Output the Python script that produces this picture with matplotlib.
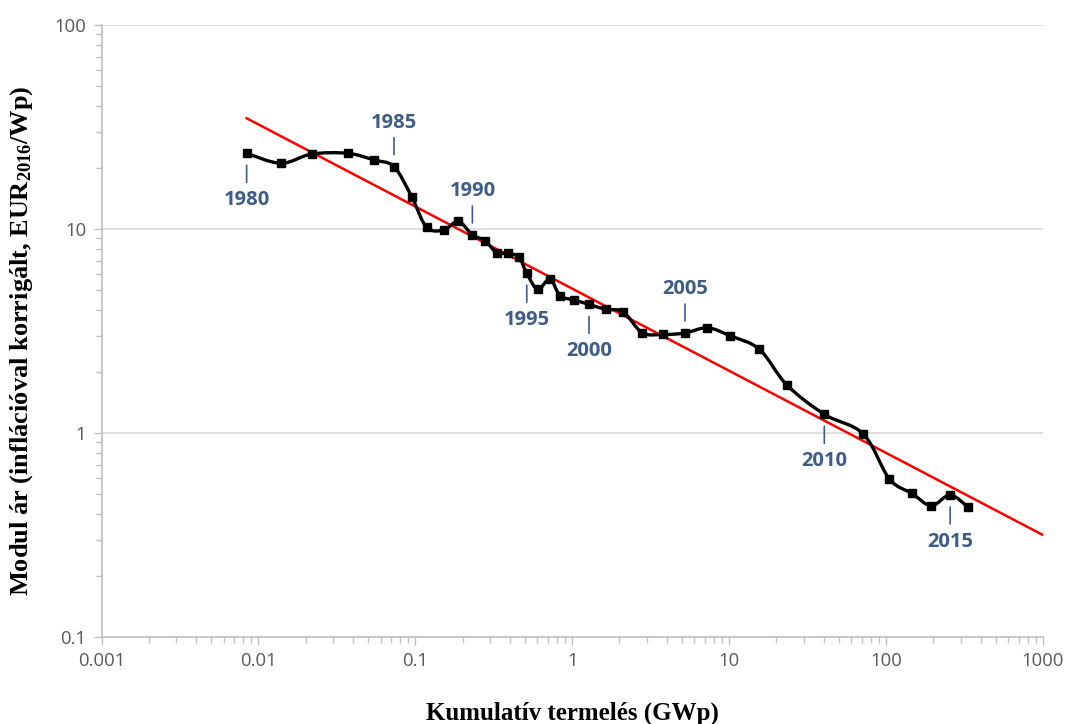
import numpy as np
import matplotlib
matplotlib.use("Agg")
import matplotlib.pyplot as plt
from matplotlib.path import Path
from matplotlib.patches import PathPatch
from matplotlib.ticker import LogLocator, FixedLocator, FixedFormatter, NullFormatter

# ---------------- data ----------------
years = list(range(1980, 2017))
cum_gwp = [0.00841, 0.01393, 0.02184, 0.03707, 0.05447, 0.0731, 0.0948, 0.118, 0.152, 0.188,
           0.231, 0.278, 0.330, 0.391, 0.458, 0.513, 0.602, 0.721, 0.836, 1.026,
           1.279, 1.634, 2.115, 2.794, 3.80, 5.23, 7.26, 10.1, 15.6, 23.3,
           40.4, 71.6, 105, 146, 194, 256, 334]
price = [23.5, 21.0, 23.3, 23.5, 21.8, 20.2, 14.4, 10.2, 9.89, 10.9,
         9.35, 8.77, 7.65, 7.60, 7.27, 6.07, 5.06, 5.69, 4.71, 4.49,
         4.27, 4.04, 3.92, 3.10, 3.04, 3.09, 3.28, 3.00, 2.57, 1.72,
         1.235, 0.989, 0.595, 0.506, 0.440, 0.497, 0.432]
fit_x = [0.00841, 1000]
fit_y = [34.9, 0.316]
label_years = [1980, 1985, 1990, 1995, 2000, 2005, 2010, 2015]
label_side = ['below', 'above', 'above', 'below', 'below', 'above', 'below', 'below']
x_ticks = [0.001, 0.01, 0.1, 1, 10, 100, 1000]
x_ticklabels = ['0.001', '0.01', '0.1', '1', '10', '100', '1000']
y_ticks = [0.1, 1, 10, 100]
y_ticklabels = ['0.1', '1', '10', '100']

plt.rcParams['mathtext.fontset'] = 'custom'
plt.rcParams['mathtext.rm'] = 'Liberation Serif:bold'
plt.rcParams['mathtext.it'] = 'Liberation Serif:bold'
plt.rcParams['mathtext.bf'] = 'Liberation Serif:bold'

fig = plt.figure(figsize=(10.68, 7.24), dpi=100)
ax = fig.add_axes([101.5 / 1068, 1 - 637 / 724, (1043 - 101.5) / 1068, (637 - 25) / 724])
ax.set_xscale('log')
ax.set_yscale('log')
ax.set_xlim(0.001, 1000)
ax.set_ylim(0.1, 100)

# grid
for v in [1, 10, 100]:
    ax.axhline(v, color='#D9D9D9', lw=1.2, zorder=0)

for s in ['top', 'right']:
    ax.spines[s].set_visible(False)
for s in ['left', 'bottom']:
    ax.spines[s].set_color('#BFBFBF')
    ax.spines[s].set_linewidth(1.2)

ax.xaxis.set_major_locator(FixedLocator(x_ticks))
ax.xaxis.set_major_formatter(FixedFormatter(x_ticklabels))
ax.yaxis.set_major_locator(FixedLocator(y_ticks))
ax.yaxis.set_major_formatter(FixedFormatter(y_ticklabels))
ax.xaxis.set_minor_locator(LogLocator(base=10, subs=np.arange(2, 10), numticks=20))
ax.yaxis.set_minor_locator(LogLocator(base=10, subs=np.arange(2, 10), numticks=20))
ax.xaxis.set_minor_formatter(NullFormatter())
ax.yaxis.set_minor_formatter(NullFormatter())
ax.tick_params(which='both', direction='out', color='#BFBFBF', width=1)
ax.tick_params(which='major', length=6, labelsize=13.3, labelcolor='#595959', pad=5)
ax.tick_params(which='minor', length=4)
for lab in ax.get_xticklabels() + ax.get_yticklabels():
    lab.set_family('Open Sans')

# fit line
ax.plot(fit_x, fit_y, color='#FF0000', lw=1.8, zorder=3)

# smoothed curve (Catmull-Rom Bezier in log space)
lx = np.log10(cum_gwp)
ly = np.log10(price)
P = np.column_stack([lx, ly])
n = len(P)
verts = [P[0]]
codes = [Path.MOVETO]
for i in range(n - 1):
    p0 = P[i - 1] if i > 0 else P[i]
    p1 = P[i]
    p2 = P[i + 1]
    p3 = P[i + 2] if i + 2 < n else P[i + 1]
    c1 = p1 + (p2 - p0) / 6.0
    c2 = p2 - (p3 - p1) / 6.0
    verts += [c1, c2, p2]
    codes += [Path.CURVE4] * 3
verts = 10 ** np.array(verts)
patch = PathPatch(Path(verts, codes), facecolor='none', edgecolor='black', lw=2.4, zorder=4,
                  capstyle='round', joinstyle='round')
ax.add_patch(patch)
ax.plot(cum_gwp, price, linestyle='none', marker='s', ms=5.5, color='black', zorder=5)

# year annotations
lab_color = '#3E5C88'
for yr, side in zip(label_years, label_side):
    i = years.index(yr)
    x, y = cum_gwp[i], price[i]
    sgn = 1 if side == 'above' else -1
    ax.annotate('', xy=(x, y), xycoords='data', xytext=(0, sgn * 29), textcoords='offset pixels',
                arrowprops=dict(arrowstyle='-', color=lab_color, lw=1.2, shrinkA=0, shrinkB=12 * 0.72),
                zorder=6)
    ax.annotate(str(yr), xy=(x, y), xycoords='data', xytext=(0, sgn * (34 if sgn > 0 else 37)),
                textcoords='offset pixels', ha='center', va='bottom' if sgn > 0 else 'top',
                color=lab_color, fontsize=14.5, fontweight='bold', family='Open Sans', zorder=6)

fig.text(572 / 1068, 1 - 713 / 724, 'Kumulatív termelés (GWp)', ha='center', va='center',
         family='Liberation Serif', fontweight='bold', fontsize=18)
fig.text(22 / 1068, 1 - 341 / 724, 'Modul ár (inflációval korrigált, EUR$_{2016}$/Wp)', ha='center',
         va='center', rotation=90, family='Liberation Serif', fontweight='bold', fontsize=19)

fig.savefig('out.png', dpi=100, facecolor='white')
